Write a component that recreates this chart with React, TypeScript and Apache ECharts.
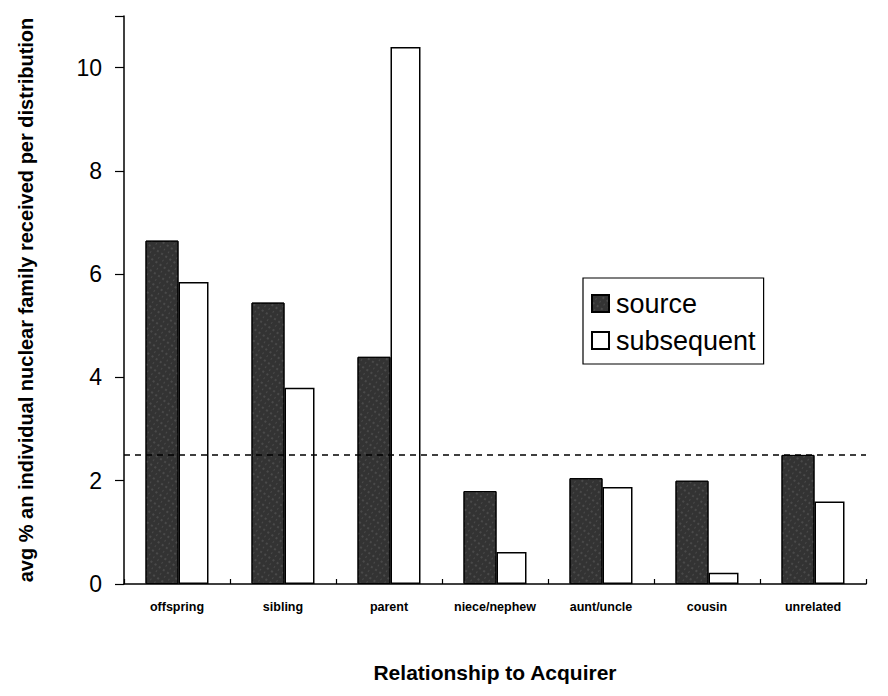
import React, { useEffect, useRef } from "react";
import * as echarts from "echarts";

const categories = ["offspring", "sibling", "parent", "niece/nephew", "aunt/uncle", "cousin", "unrelated"];
const sourceValues = [6.65, 5.45, 4.4, 1.8, 2.05, 2.0, 2.5];
const subsequentValues = [5.85, 3.8, 10.4, 0.62, 1.88, 0.22, 1.6];
const referenceLevel = 2.5;
const yTicks = [0, 2, 4, 6, 8, 10];

const FONT = "'Liberation Sans', Arial, Helvetica, sans-serif";

export default function App() {
  const ref = useRef<HTMLDivElement>(null);
  useEffect(() => {
    if (!ref.current) return;
    const chart = echarts.init(ref.current, null, { renderer: "svg" });
    chart.setOption({
      animation: false,
      backgroundColor: "#ffffff",
      textStyle: { fontFamily: FONT, color: "#000" },
      grid: { left: 112, right: 14, top: 8, bottom: 88, containLabel: false },
      legend: {
        orient: "vertical",
        left: 575,
        top: 270,
        data: [
          { name: "source", icon: "rect" },
          { name: "subsequent", icon: "rect" },
        ],
        itemWidth: 17,
        itemHeight: 17,
        itemGap: 10,
        padding: [12, 8, 10, 8],
        borderColor: "#000",
        borderWidth: 1.2,
        backgroundColor: "#fff",
        textStyle: { fontFamily: FONT, fontSize: 27, color: "#000", padding: [0, 0, 0, 2] },
      },
      xAxis: {
        type: "category",
        data: categories,
        name: "Relationship to Acquirer",
        nameLocation: "middle",
        nameGap: 78,
        nameTextStyle: { fontFamily: FONT, fontSize: 21, fontWeight: "bold", color: "#000" },
        axisLine: { lineStyle: { color: "#000", width: 1.5 } },
        axisTick: { show: true, length: 5, inside: true, lineStyle: { color: "#000", width: 1.2 } },
        axisLabel: {
          interval: 0,
          hideOverlap: false,
          fontFamily: FONT,
          fontSize: 12.5,
          fontWeight: "bold",
          color: "#000",
          margin: 16,
        },
      },
      yAxis: {
        type: "value",
        min: 0,
        max: 11,
        interval: 2,
        name: "avg % an individual nuclear family received per distribution",
        nameLocation: "middle",
        nameGap: 88,
        nameRotate: 90,
        nameTextStyle: { fontFamily: FONT, fontSize: 20, fontWeight: "bold", color: "#000" },
        splitLine: { show: false },
        axisLine: { show: true, lineStyle: { color: "#000", width: 1.5 } },
        axisTick: { show: true, length: 9, lineStyle: { color: "#000", width: 1.2 } },
        axisLabel: {
          fontFamily: FONT,
          fontSize: 23,
          color: "#000",
          margin: 22,
          formatter: (v: number) => (yTicks.includes(v) ? String(v) : ""),
        },
      },
      series: [
        {
          name: "source",
          type: "bar",
          data: sourceValues,
          barWidth: 33,
          barGap: "0%",
          itemStyle: {
            color: "#333333",
            borderColor: "#000",
            borderWidth: 1,
            decal: {
              symbol: "rect",
              symbolSize: 0.6,
              color: "rgba(200,200,200,0.5)",
              dashArrayX: [[2, 3], [1, 4]],
              dashArrayY: [2, 3],
              rotation: 0.6,
            },
          },
          markLine: {
            silent: true,
            symbol: "none",
            label: { show: false },
            lineStyle: { color: "#000", type: [6, 5], width: 1.5 },
            data: [{ yAxis: referenceLevel }],
          },
        },
        {
          name: "subsequent",
          type: "bar",
          data: subsequentValues,
          barWidth: 30,
          itemStyle: { color: "#ffffff", borderColor: "#000", borderWidth: 1.5 },
        },
      ],
    });
    return () => chart.dispose();
  }, []);
  return <div ref={ref} style={{ width: 872, height: 680 }} />;
}
